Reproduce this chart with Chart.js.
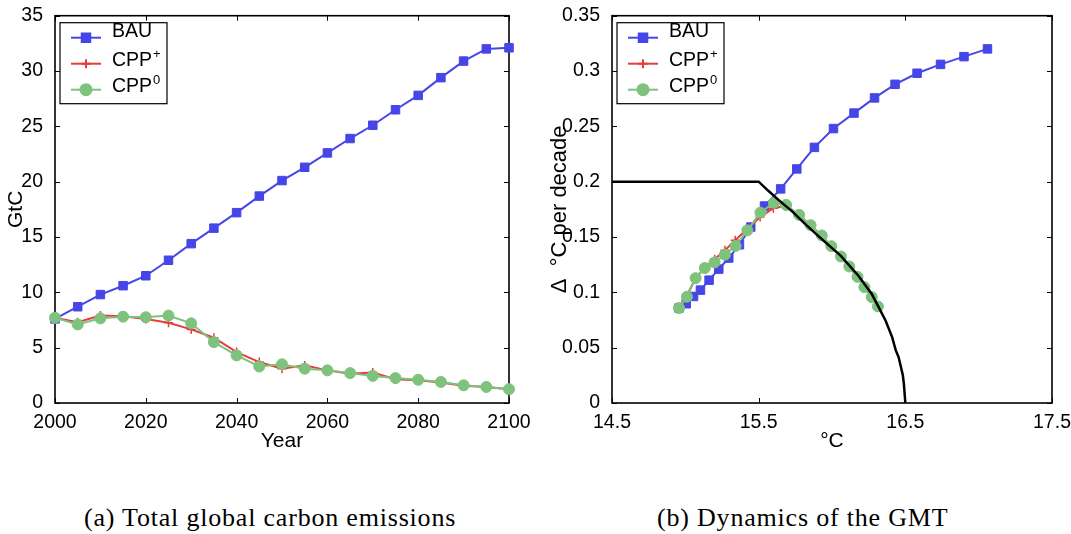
<!DOCTYPE html>
<html>
<head>
<meta charset="utf-8">
<title>Carbon emissions and GMT dynamics</title>
<script src="https://cdn.jsdelivr.net/npm/chart.js@4.4.0/dist/chart.umd.min.js"></script>
<style>
  body { margin: 0; background: #fff; width: 1071px; height: 534px; overflow: hidden; position: relative; }
  canvas { position: absolute; top: 0; }
  #chartA { left: 0; }
  #chartB { left: 535px; }
  .caption {
    position: absolute; top: 505px;
    font-family: "Liberation Serif", serif; font-size: 26px; line-height: 26px;
    letter-spacing: 0.8px; color: #000; white-space: nowrap;
  }
</style>
</head>
<body>
<canvas id="chartA" width="535" height="470"></canvas>
<canvas id="chartB" width="560" height="470"></canvas>
<div class="caption" style="left: 84px">(a) Total global carbon emissions</div>
<div class="caption" style="left: 657px">(b) Dynamics of the GMT</div>
<script>
// (a) total global emissions, GtC, every 5 years
const years = [2000, 2005, 2010, 2015, 2020, 2025, 2030, 2035, 2040, 2045, 2050,
  2055, 2060, 2065, 2070, 2075, 2080, 2085, 2090, 2095, 2100];
const bauEmissions = [7.6, 8.7, 9.8, 10.6, 11.5, 12.9, 14.4, 15.8, 17.2, 18.7, 20.1,
  21.3, 22.6, 23.9, 25.1, 26.5, 27.8, 29.4, 30.9, 32.0, 32.1];
const cppPlusEmissions = [7.7, 7.3, 7.9, 7.85, 7.6, 7.25, 6.65, 5.9, 4.6, 3.7, 3.1,
  3.4, 2.95, 2.65, 2.75, 2.15, 2.05, 1.85, 1.55, 1.45, 1.25];
const cppZeroEmissions = [7.7, 7.1, 7.65, 7.8, 7.75, 7.9, 7.2, 5.5, 4.3, 3.3, 3.5,
  3.1, 2.95, 2.7, 2.45, 2.25, 2.1, 1.9, 1.6, 1.45, 1.25];

// (b) GMT (°C) against its rate of change (°C per decade)
const bauTemp = [14.957, 15.006, 15.056, 15.103, 15.162, 15.228, 15.296, 15.369, 15.446, 15.54,
  15.65, 15.76, 15.88, 16.01, 16.15, 16.29, 16.43, 16.58, 16.74, 16.9, 17.06];
const bauRate = [0.0858, 0.0897, 0.0963, 0.102, 0.111, 0.121, 0.131, 0.143, 0.159, 0.178,
  0.1935, 0.2115, 0.231, 0.248, 0.262, 0.2757, 0.288, 0.298, 0.306, 0.313, 0.32];
const cppPlusTemp = [14.957, 15.01, 15.07, 15.13, 15.2, 15.27, 15.34, 15.42, 15.51, 15.6,
  15.68, 15.77, 15.85, 15.93, 15.995, 16.06, 16.12, 16.17, 16.22, 16.27, 16.31];
const cppPlusRate = [0.0858, 0.097, 0.113, 0.122, 0.13, 0.138, 0.147, 0.157, 0.168, 0.176,
  0.178, 0.17, 0.161, 0.151, 0.142, 0.132, 0.123, 0.114, 0.105, 0.096, 0.087];
const cppZeroTemp = [14.957, 15.011, 15.07, 15.133, 15.199, 15.27, 15.343, 15.423, 15.512, 15.604,
  15.687, 15.776, 15.854, 15.93, 15.995, 16.061, 16.118, 16.174, 16.221, 16.271, 16.313];
const cppZeroRate = [0.0858, 0.096, 0.1128, 0.122, 0.127, 0.134, 0.142, 0.156, 0.172, 0.181,
  0.179, 0.17, 0.1607, 0.1514, 0.1417, 0.1324, 0.1234, 0.114, 0.1047, 0.0957, 0.0873];
// tolerable window boundary (black curve)
const limitTemp = [14.5, 15.5, 15.564, 15.635, 15.73, 15.823, 15.94, 16.06, 16.18, 16.27,
  16.318, 16.365, 16.41, 16.435, 16.454, 16.47, 16.483, 16.49, 16.5];
const limitRate = [0.2, 0.2, 0.192, 0.1836, 0.173, 0.161, 0.147, 0.133, 0.115, 0.0987,
  0.0867, 0.0746, 0.0596, 0.0475, 0.0415, 0.0325, 0.025, 0.0175, 0];

// tick values
const yearTicks = [2000, 2020, 2040, 2060, 2080, 2100];
const gtcTicks = [0, 5, 10, 15, 20, 25, 30, 35];
const tempTicks = [14.5, 15.5, 16.5, 17.5];
const rateTicks = [0, 0.05, 0.1, 0.15, 0.2, 0.25, 0.3, 0.35];

const legendNames = ["BAU", "CPP", "CPP"];
const legendSups = ["", "+", "0"];

const BLUE = "#4545e8";
const RED = "#e63c3c";
const GREEN = "#7dc27d";
const FONT = "Liberation Sans";
const axisFont = { family: FONT, size: 19.5 };

const toPoints = (xs, ys) => xs.map((x, i) => ({ x: x, y: ys[i] }));
const plainNumber = (v) => String(Number(v.toFixed(2)));

const styles = {
  bau: { color: BLUE, pointStyle: "rect", pointRadius: 6, pointBorderWidth: 1, borderWidth: 2 },
  plus: { color: RED, pointStyle: "cross", pointRadius: 4.5, pointBorderWidth: 1.5, borderWidth: 2 },
  zero: { color: GREEN, pointStyle: "circle", pointRadius: 5.5, pointBorderWidth: 1, borderWidth: 2 },
};

const makeSeries = (label, points, st, order) => ({
  label: label,
  data: points,
  order: order,
  borderColor: st.color,
  backgroundColor: st.color,
  pointBackgroundColor: st.color,
  pointBorderColor: st.color,
  pointStyle: st.pointStyle,
  pointRadius: st.pointRadius,
  pointHoverRadius: st.pointRadius,
  pointBorderWidth: st.pointBorderWidth,
  borderWidth: st.borderWidth,
  tension: 0,
  fill: false,
  clip: false,
});

// box with inward ticks on all four sides, matlab style
const framePlugin = {
  id: "matlabFrame",
  beforeDatasetsDraw: (chart) => {
    const { ctx, chartArea: a, scales } = chart;
    ctx.save();
    ctx.strokeStyle = "#000";
    ctx.lineWidth = 1;
    ctx.beginPath();
    scales.x.ticks.forEach((t) => {
      const px = Math.round(scales.x.getPixelForValue(t.value)) + 0.5;
      ctx.moveTo(px, a.bottom);
      ctx.lineTo(px, a.bottom - 5);
      ctx.moveTo(px, a.top);
      ctx.lineTo(px, a.top + 5);
    });
    scales.y.ticks.forEach((t) => {
      const py = Math.round(scales.y.getPixelForValue(t.value)) + 0.5;
      ctx.moveTo(a.left, py);
      ctx.lineTo(a.left + 5, py);
      ctx.moveTo(a.right, py);
      ctx.lineTo(a.right - 5, py);
    });
    ctx.stroke();
    ctx.lineWidth = 1.6;
    ctx.strokeRect(a.left, a.top, a.right - a.left, a.bottom - a.top);
    ctx.restore();
  },
};

// legend drawn inside the plot, top left
const boxLegend = {
  id: "boxLegend",
  afterDraw: (chart) => {
    const { ctx, chartArea: a } = chart;
    const left = a.left + 5;
    const top = a.top + 7;
    ctx.save();
    ctx.fillStyle = "#fff";
    ctx.fillRect(left, top, 107, 81);
    ctx.strokeStyle = "#000";
    ctx.lineWidth = 1.2;
    ctx.strokeRect(left, top, 107, 81);
    legendNames.forEach((name, i) => {
      const ds = chart.data.datasets[i];
      const y = top + 15 + i * 26;
      ctx.strokeStyle = ds.borderColor;
      ctx.fillStyle = ds.pointBackgroundColor;
      ctx.lineWidth = ds.borderWidth;
      ctx.beginPath();
      ctx.moveTo(left + 11, y);
      ctx.lineTo(left + 41, y);
      ctx.stroke();
      Chart.helpers.drawPoint(ctx, {
        pointStyle: ds.pointStyle,
        radius: ds.pointRadius,
        rotation: 0,
        borderWidth: ds.pointBorderWidth,
      }, left + 26, y);
      ctx.fillStyle = "#000";
      ctx.textBaseline = "alphabetic";
      ctx.font = "19.5px " + FONT;
      const base = i === 0 ? y - 1 : y + 2;
      ctx.fillText(name, left + 52, base);
      if (legendSups[i]) {
        const w = ctx.measureText(name).width;
        ctx.font = "13px " + FONT;
        ctx.fillText(legendSups[i], left + 53 + w, base - 8);
      }
    });
    ctx.restore();
  },
};

const makeOptions = (cfg) => ({
  responsive: false,
  animation: false,
  events: [],
  layout: { padding: { top: 15, right: cfg.padRight, bottom: 0, left: 0 } },
  plugins: { legend: { display: false }, tooltip: { enabled: false } },
  scales: {
    x: {
      type: "linear",
      min: cfg.xTicks[0],
      max: cfg.xTicks[cfg.xTicks.length - 1],
      afterBuildTicks: (axis) => { axis.ticks = cfg.xTicks.map((v) => ({ value: v })); },
      afterFit: (axis) => { axis.height = 67; },
      grid: { display: false },
      border: { display: false },
      ticks: { color: "#000", font: axisFont, padding: 0, maxRotation: 0, autoSkip: false, callback: plainNumber },
      title: { display: true, text: cfg.xTitle, color: "#000", font: { family: FONT, size: 21 }, padding: { top: 0, bottom: 16 } },
    },
    y: {
      type: "linear",
      min: cfg.yTicks[0],
      max: cfg.yTicks[cfg.yTicks.length - 1],
      afterBuildTicks: (axis) => { axis.ticks = cfg.yTicks.map((v) => ({ value: v })); },
      afterFit: (axis) => { axis.width = cfg.yWidth; },
      grid: { display: false },
      border: { display: false },
      ticks: { color: "#000", font: axisFont, padding: 4, autoSkip: false, callback: plainNumber },
      title: { display: true, text: cfg.yTitle, color: "#000", font: { family: FONT, size: cfg.yTitleSize }, padding: { top: cfg.yTitlePad, bottom: 0 } },
    },
  },
});

new Chart(document.getElementById("chartA"), {
  type: "line",
  data: {
    datasets: [
      makeSeries("BAU", toPoints(years, bauEmissions), styles.bau, 3),
      makeSeries("CPP+", toPoints(years, cppPlusEmissions), styles.plus, 2),
      makeSeries("CPP0", toPoints(years, cppZeroEmissions), styles.zero, 1),
    ],
  },
  options: makeOptions({
    xTicks: yearTicks, yTicks: gtcTicks, xTitle: "Year", yTitle: "GtC",
    yWidth: 55, yTitlePad: 4, yTitleSize: 21, padRight: 26,
  }),
  plugins: [framePlugin, boxLegend],
});

new Chart(document.getElementById("chartB"), {
  type: "line",
  data: {
    datasets: [
      makeSeries("BAU", toPoints(bauTemp, bauRate), styles.bau, 3),
      makeSeries("CPP+", toPoints(cppPlusTemp, cppPlusRate), styles.plus, 2),
      makeSeries("CPP0", toPoints(cppZeroTemp, cppZeroRate), styles.zero, 1),
      {
        label: "limit",
        data: toPoints(limitTemp, limitRate),
        order: 0,
        borderColor: "#000",
        borderWidth: 2.5,
        pointRadius: 0,
        tension: 0,
        fill: false,
        clip: false,
      },
    ],
  },
  options: makeOptions({
    xTicks: tempTicks, yTicks: rateTicks, xTitle: "°C", yTitle: "Δ  °C per decade",
    yWidth: 77, yTitlePad: 12, yTitleSize: 22, padRight: 43,
  }),
  plugins: [framePlugin, boxLegend],
});
</script>
</body>
</html>
